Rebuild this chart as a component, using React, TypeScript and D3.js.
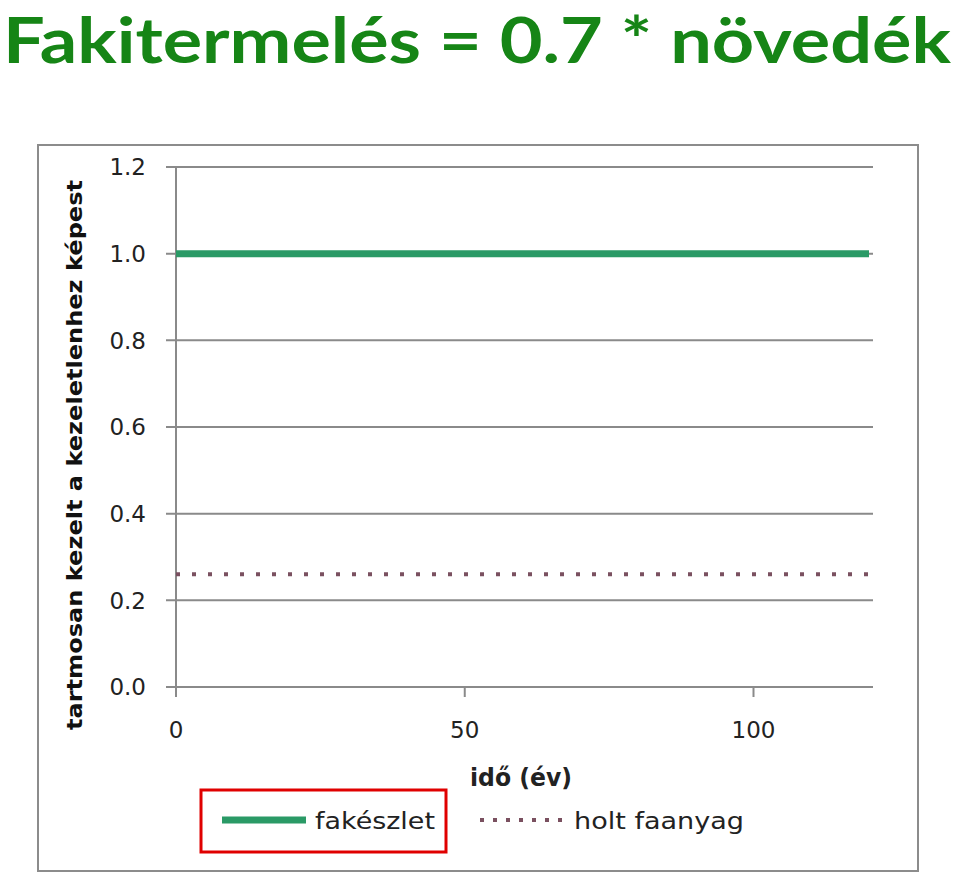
import React from "react";
import * as d3 from "d3";

const years = [0, 20, 40, 60, 80, 100, 120];
const fakeszlet = [1.0, 1.0, 1.0, 1.0, 1.0, 1.0, 1.0];
const holtFaanyag = [0.26, 0.26, 0.26, 0.26, 0.26, 0.26, 0.26];
const yTicks = [0, 0.2, 0.4, 0.6, 0.8, 1.0, 1.2];
const xTicks = [0, 50, 100];
const seriesNames = ["fakészlet", "holt faanyag"];
const titleText = "Fakitermelés = 0.7 * növedék";
const xTitle = "idő (év)";
const yTitle = "tartmosan kezelt a kezeletlenhez képest";

export default function App() {
  const x = d3.scaleLinear().domain([0, 120]).range([176, 869]);
  const y = d3.scaleLinear().domain([0, 1.2]).range([687, 167]);
  const gridEnd = 873;
  const line = d3
    .line<number>()
    .x((_, i) => x(years[i]))
    .y((d) => y(d));
  const tickFont = "'DejaVu Sans', Verdana, sans-serif";
  const grid = "#8a8a8a";

  return (
    <svg
      width={960}
      height={873}
      style={{ position: "absolute", left: 0, top: 0, background: "#fff" }}
    >
      <text
        x={3}
        y={63}
        fill="#168516"
        fontFamily="Lato, 'Open Sans', sans-serif"
        fontWeight="bold"
        fontSize={63}
        textLength={948}
        lengthAdjust="spacingAndGlyphs"
      >
        {titleText}
      </text>

      {/* outer frame */}
      <rect x={38} y={145} width={880} height={726} fill="none" stroke="#8c8c8c" strokeWidth={2} />

      {/* gridlines */}
      {yTicks.map((t) => (
        <g key={"g" + t}>
          <line x1={166} x2={gridEnd} y1={y(t)} y2={y(t)} stroke={grid} strokeWidth={2} />
          <text
            x={146}
            y={y(t)}
            dy="0.36em"
            textAnchor="end"
            fontFamily={tickFont}
            fontSize={23}
            fill="#222"
          >
            {t.toFixed(1)}
          </text>
        </g>
      ))}
      {/* y axis */}
      <line x1={176} x2={176} y1={167} y2={697} stroke={grid} strokeWidth={2} />
      {xTicks.map((t) => (
        <g key={"x" + t}>
          <line x1={x(t)} x2={x(t)} y1={687} y2={697} stroke={grid} strokeWidth={2} />
          <text
            x={x(t)}
            y={738}
            textAnchor="middle"
            fontFamily={tickFont}
            fontSize={23}
            fill="#222"
          >
            {t}
          </text>
        </g>
      ))}

      {/* series */}
      <path d={line(fakeszlet) || ""} fill="none" stroke="#2a9a66" strokeWidth={7} />
      <path
        d={line(holtFaanyag) || ""}
        fill="none"
        stroke="#7a5060"
        strokeWidth={4}
        strokeDasharray="4 12"
      />

      {/* axis titles */}
      <text
        x={521}
        y={786}
        textAnchor="middle"
        fontFamily={tickFont}
        fontWeight="bold"
        fontSize={24}
        fill="#222"
        textLength={102}
        lengthAdjust="spacingAndGlyphs"
      >
        {xTitle}
      </text>
      <text
        transform={`translate(82,455) rotate(-90)`}
        textAnchor="middle"
        fontFamily={tickFont}
        fontWeight="bold"
        fontSize={21}
        fill="#111"
        textLength={550}
        lengthAdjust="spacingAndGlyphs"
      >
        {yTitle}
      </text>

      {/* legend */}
      <line x1={222} x2={306} y1={820} y2={820} stroke="#2a9a66" strokeWidth={7} />
      <text x={315} y={829} fontFamily={tickFont} fontSize={23} fill="#222" textLength={120} lengthAdjust="spacingAndGlyphs">
        {seriesNames[0]}
      </text>
      <line x1={480} x2={562} y1={820} y2={820} stroke="#7a5060" strokeWidth={4} strokeDasharray="4 9" />
      <text x={574} y={829} fontFamily={tickFont} fontSize={23} fill="#222" textLength={170} lengthAdjust="spacingAndGlyphs">
        {seriesNames[1]}
      </text>
      <rect x={201} y={790} width={245} height={62} fill="none" stroke="#e00000" strokeWidth={3} />
    </svg>
  );
}
